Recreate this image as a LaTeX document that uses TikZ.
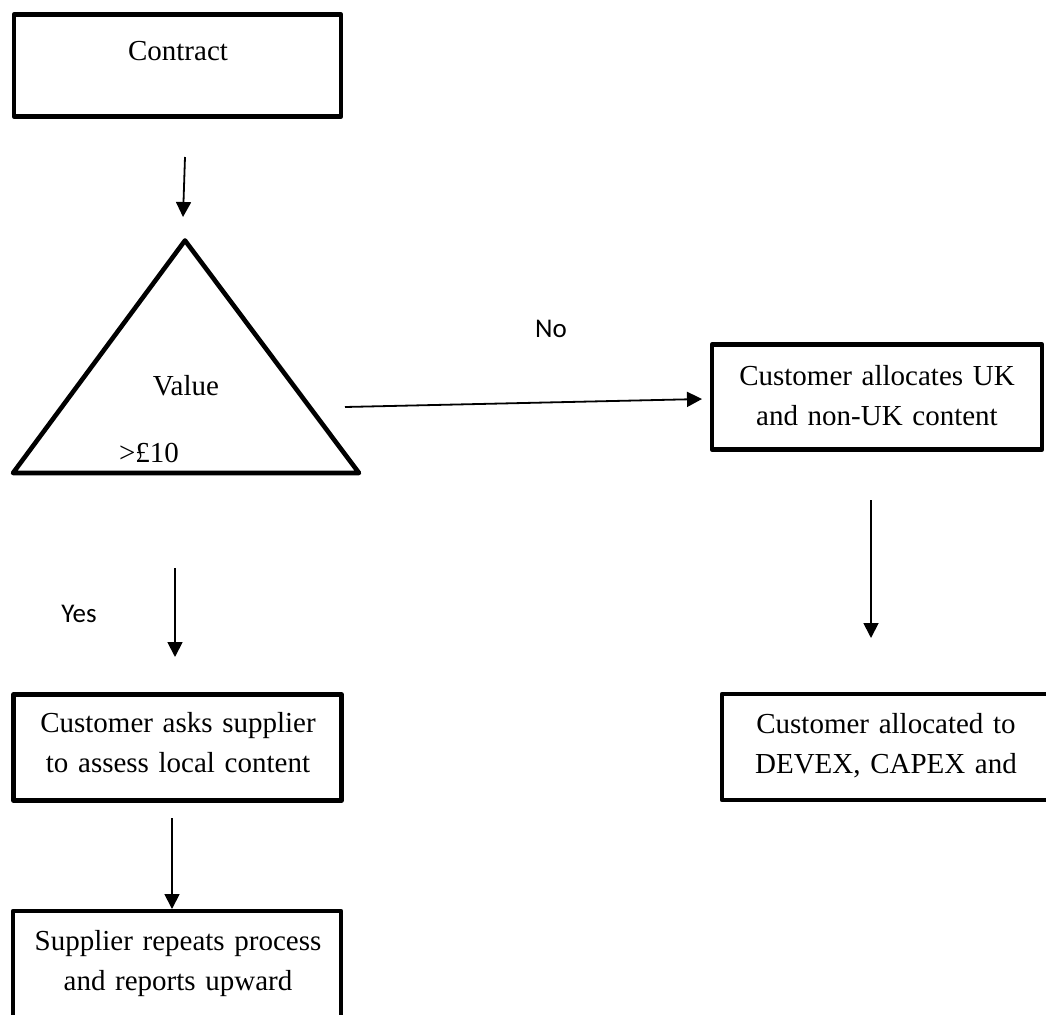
\documentclass[tikz,border=0pt]{standalone}
\usepackage{fontspec}
\setmainfont{Liberation Serif}
\newfontfamily\labelsans{Carlito}
\usetikzlibrary{arrows.meta}
\begin{document}
\begin{tikzpicture}[x=1pt,y=-1pt,
  stepbox/.style={draw, line width=4.6pt, minimum width=328pt, minimum height=106pt,
    inner sep=0pt, line join=round},
  boxtext/.style={anchor=base, text width=330pt, align=center, inner sep=0pt,
    font=\fontsize{29}{40}\selectfont},
  plain/.style={anchor=base, inner sep=0pt, font=\fontsize{29}{40}\selectfont},
  answer/.style={anchor=base, inner sep=0pt, font=\labelsans\fontsize{27}{32}\selectfont},
  flow/.style={line width=1.8pt, -{Triangle[length=15pt,width=15pt]}}]
\clip (0,0) rectangle (1046,1014);
\fill[white] (0,0) rectangle (1046,1014);

% start box
\node[stepbox, minimum width=327pt, minimum height=102pt] (contract) at (177.5,65.5) {};
\node[plain] (contractlabel) at (178,61) {Contract};

% decision triangle
\draw[line width=4.6pt, line join=round] (185,240.5) -- (359,473) -- (13,473) -- cycle;
\node[plain] (value) at (186,395) {Value};
\node[plain] (threshold) at (149,462) {>£10};

% branch labels
\node[answer] (no) at (551,337) {No};
\node[answer] (yes) at (79,622) {Yes};

% process boxes
\node[stepbox, minimum width=330pt, minimum height=105pt] (allocuk) at (877,397) {};
\node[boxtext] (allocuklabel) at (877,385) {Customer allocates UK\\and non-UK content};

\node[stepbox] (allocdevex) at (886,747) {};
\node[boxtext] (allocdevexlabel) at (886,733) {Customer allocated to\\DEVEX, CAPEX and};

\node[stepbox, minimum width=328pt] (askssupplier) at (177.5,747.5) {};
\node[boxtext] (askssupplierlabel) at (178,732) {Customer asks supplier\\to assess local content};

\node[stepbox] (repeats) at (177,964) {};
\node[boxtext] (repeatslabel) at (178,950) {Supplier repeats process\\and reports upward};

% connector end points
\coordinate (a1s) at (185,157); \coordinate (a1e) at (183,217);
\coordinate (a2s) at (345,407); \coordinate (a2e) at (702,399);
\coordinate (a3s) at (871,500); \coordinate (a3e) at (871,638);
\coordinate (a4s) at (175,568); \coordinate (a4e) at (175,657);
\coordinate (a5s) at (172,818); \coordinate (a5e) at (172,909);

\draw[flow] (a1s) -- (a1e);
\draw[flow] (a2s) -- (a2e);
\draw[flow] (a3s) -- (a3e);
\draw[flow] (a4s) -- (a4e);
\draw[flow] (a5s) -- (a5e);
\end{tikzpicture}
\end{document}
